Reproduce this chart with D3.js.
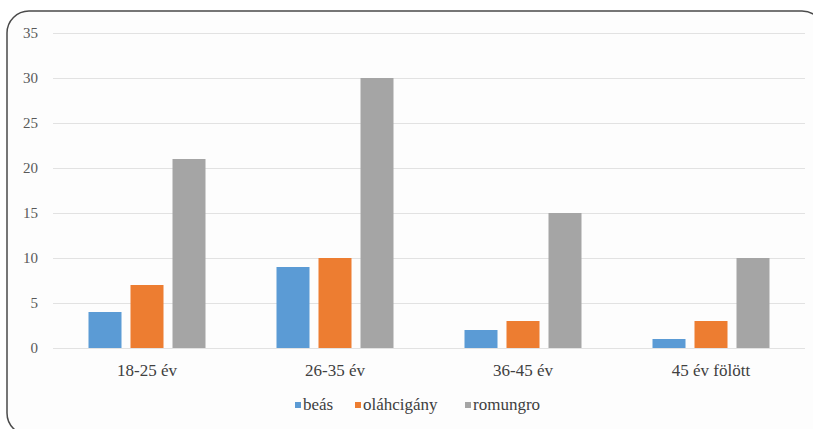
<!DOCTYPE html>
<html><head><meta charset="utf-8"><script src="https://cdn.jsdelivr.net/npm/d3@7"></script></head>
<body style="margin:0">
<svg id="chart" width="813" height="429" font-family="Liberation Serif, Tinos, serif"></svg>
<script>
const categories = ["18-25 év", "26-35 év", "36-45 év", "45 év fölött"];
const seriesNames = ["beás", "oláhcigány", "romungro"];
const beas = [4, 9, 2, 1];
const olahcigany = [7, 10, 3, 3];
const romungro = [21, 30, 15, 10];
const yTicks = [0, 5, 10, 15, 20, 25, 30, 35];
const colors = ["#5B9BD5", "#ED7D31", "#A5A5A5"];

const FONT = '"Liberation Serif", Tinos, "Times New Roman", "Noto Serif", "DejaVu Serif", serif';
const seriesValues = [beas, olahcigany, romungro];
const rows = categories.map((c, i) => ({
  category: c,
  values: seriesNames.map((s, j) => ({ series: s, value: seriesValues[j][i] }))
}));

const svg = d3.select("#chart");
const plot = { left: 53, right: 805, top: 33, bottom: 348 };

svg.append("rect")
  .attr("x", 7).attr("y", 11)
  .attr("width", 817).attr("height", 424)
  .attr("rx", 22).attr("ry", 22)
  .attr("fill", "#fdfdfd")
  .attr("stroke", "#4a4a4a")
  .attr("stroke-width", 1.5);

const x0 = d3.scaleBand().domain(categories).range([plot.left, plot.right]).padding(0);
const groupPad = (x0.bandwidth() - 117) / 2;
const x1 = d3.scaleBand().domain(seriesNames)
  .range([groupPad, x0.bandwidth() - groupPad])
  .paddingInner(0.2143).paddingOuter(0);
const y = d3.scaleLinear().domain([0, 35]).range([plot.bottom, plot.top]);
const color = d3.scaleOrdinal().domain(seriesNames).range(colors);

svg.append("g").selectAll("line").data(yTicks).join("line")
  .attr("x1", plot.left).attr("x2", plot.right)
  .attr("y1", d => Math.round(y(d)) + 0.5).attr("y2", d => Math.round(y(d)) + 0.5)
  .attr("stroke", "#e2e2e2").attr("stroke-width", 1);

// y labels
svg.append("g").selectAll("text").data(yTicks).join("text")
  .attr("x", 38).attr("y", d => y(d)).attr("dy", "0.35em")
  .attr("text-anchor", "end")
  .style("font-family", FONT).style("font-size", "15px")
  .attr("fill", "#595959")
  .text(d => d);

// bars
const groups = svg.append("g").selectAll("g").data(rows).join("g")
  .attr("transform", d => `translate(${x0(d.category)},0)`);
groups.selectAll("rect").data(d => d.values).join("rect")
  .attr("x", d => x1(d.series))
  .attr("width", x1.bandwidth())
  .attr("y", d => y(d.value))
  .attr("height", d => y(0) - y(d.value))
  .attr("fill", d => color(d.series));

// x labels
svg.append("g").selectAll("text").data(categories).join("text")
  .attr("x", d => x0(d) + x0.bandwidth() / 2).attr("y", plot.bottom + 28)
  .attr("text-anchor", "middle")
  .style("font-family", FONT).style("font-size", "17px")
  .attr("fill", "#404040")
  .text(d => d);

// legend
const legend = svg.append("g");
const legendX = [295, 355, 465];
seriesNames.forEach((s, i) => {
  legend.append("rect")
    .attr("x", legendX[i]).attr("y", 402)
    .attr("width", 6).attr("height", 6)
    .attr("fill", colors[i]);
  legend.append("text")
    .attr("x", legendX[i] + 8).attr("y", 410)
    .style("font-family", FONT).style("font-size", "17px")
    .attr("fill", "#404040")
    .text(s);
});
</script></body></html>
